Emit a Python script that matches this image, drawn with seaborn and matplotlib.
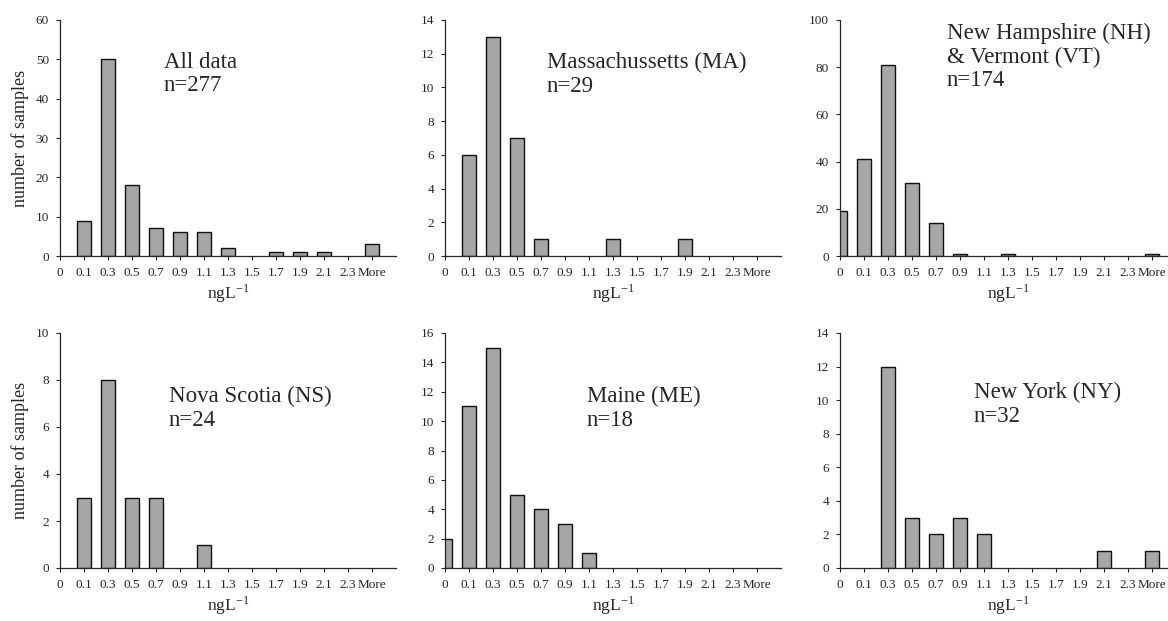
import numpy as np
import pandas as pd
import matplotlib
matplotlib.use("Agg")
import matplotlib.pyplot as plt
import seaborn as sns

# bin labels (upper edges of concentration classes, ng/L)
bins = ["0", "0.1", "0.3", "0.5", "0.7", "0.9", "1.1", "1.3", "1.5", "1.7",
        "1.9", "2.1", "2.3", "More"]

# counts per bin, one list per region
all_data = [0, 9, 50, 18, 7, 6, 6, 2, 0, 1, 1, 1, 0, 3]
mass = [0, 6, 13, 7, 1, 0, 0, 1, 0, 0, 1, 0, 0, 0]
nh_vt = [19, 41, 81, 31, 14, 1, 0, 1, 0, 0, 0, 0, 0, 1]
nova_scotia = [0, 3, 8, 3, 3, 0, 1, 0, 0, 0, 0, 0, 0, 0]
maine = [2, 11, 15, 5, 4, 3, 1, 0, 0, 0, 0, 0, 0, 0]
new_york = [0, 0, 12, 3, 2, 3, 2, 0, 0, 0, 0, 1, 0, 1]

titles = ["All data\nn=277", "Massachussetts (MA)\nn=29",
          "New Hampshire (NH)\n& Vermont (VT)\nn=174",
          "Nova Scotia (NS)\nn=24", "Maine (ME)\nn=18", "New York (NY)\nn=32"]
y_max = [60, 14, 100, 10, 16, 14]
y_step = [10, 2, 20, 2, 2, 2]

sns.set_style("ticks")
plt.rcParams["font.family"] = ["Liberation Serif", "DejaVu Serif"]
plt.rcParams["mathtext.fontset"] = "stix"

W, H = 1168, 621
fig = plt.figure(figsize=(W / 100, H / 100), dpi=100)

# panel boxes in pixels: (left spine x, bottom y of zero line, top y)
lefts = [60, 445, 840]
rows = [(256, 20), (568, 333)]
# text anchor (x, y top) in pixels
text_pos = [(164, 52), (547, 52), (947, 23), (169, 386), (587, 386), (974, 382)]

series = [all_data, mass, nh_vt, nova_scotia, maine, new_york]

for i, counts in enumerate(series):
    r, c = divmod(i, 3)
    y0, y1 = rows[r]
    x0 = lefts[c]
    ax = fig.add_axes([x0 / W, 1 - y0 / H, 336 / W, (y0 - y1) / H])
    df = pd.DataFrame({"bin": bins, "count": counts})
    sns.barplot(data=df, x="bin", y="count", order=bins, color="#a6a6a6",
                edgecolor="#111111", linewidth=1.0, width=0.6, saturation=1,
                ax=ax)
    # empty classes: no outline sitting on the axis
    for p in ax.patches:
        if p.get_height() == 0:
            p.set_linewidth(0)
    ax.set_xlim(0, 14)
    ax.set_ylim(0, y_max[i])
    ax.set_yticks(np.arange(0, y_max[i] + 1, y_step[i]))
    ax.set_xticks(range(len(bins)))
    ax.set_xticklabels(bins)
    sns.despine(ax=ax)
    ax.tick_params(axis="both", labelsize=9.5, length=3, width=0.8, pad=5)
    for s in ["left", "bottom"]:
        ax.spines[s].set_linewidth(0.9)
    ax.set_xlabel("ngL$^{\\mathregular{-1}}$", fontsize=12.5, labelpad=2)
    if c == 0:
        ax.set_ylabel("number of samples", fontsize=13, labelpad=5)
    else:
        ax.set_ylabel("")
    fig.text(text_pos[i][0] / W, 1 - text_pos[i][1] / H, titles[i],
             fontsize=16.5, va="top", ha="left", linespacing=1.15)

fig.savefig("out.png", dpi=100)
